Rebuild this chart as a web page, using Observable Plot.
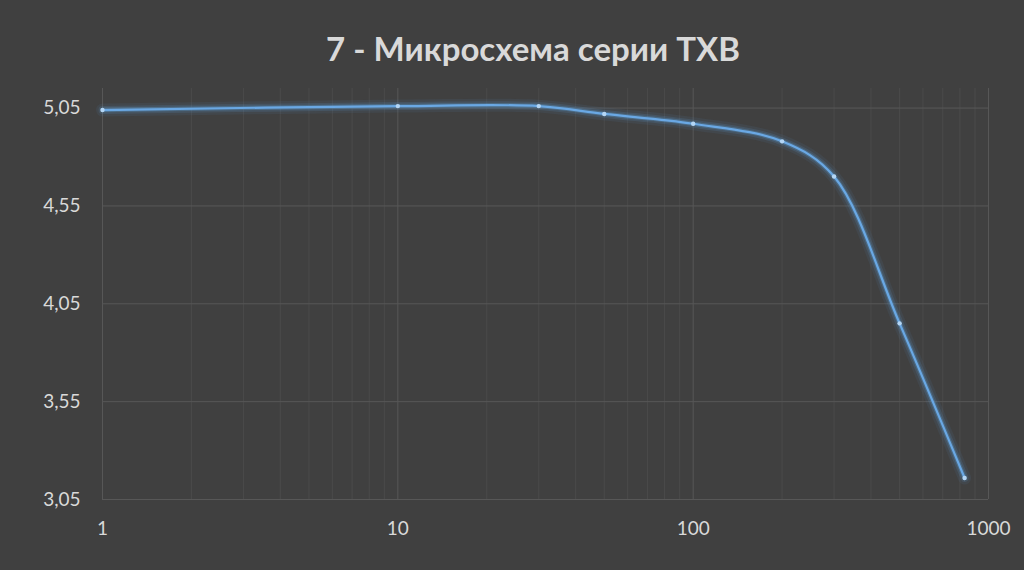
<!DOCTYPE html>
<html>
<head>
<meta charset="utf-8">
<script src="https://cdn.jsdelivr.net/npm/d3@7"></script>
<script src="https://cdn.jsdelivr.net/npm/@observablehq/plot@0.6"></script>
<style>
  html, body { margin: 0; padding: 0; background: #404040; width: 1024px; height: 570px; overflow: hidden; }
  #title { height: 70px; box-sizing: border-box; padding-top: 30px; padding-left: 42px; text-align: center;
           font-family: Lato, "Open Sans", sans-serif; font-weight: 700; font-size: 33px; color: #d9d9d9; line-height: 36px; }
</style>
</head>
<body>
<div id="title">7 - Микросхема серии TXB</div>
<div id="chart"></div>
<script>
const xValues = [1, 10, 30, 50, 100, 200, 300, 500, 830];
const yValues = [5.04, 5.06, 5.06, 5.02, 4.97, 4.88, 4.70, 3.95, 3.16];
const yTicks = [3.05, 3.55, 4.05, 4.55, 5.05];
const xMajorTicks = [1, 10, 100, 1000];
const xMinorTicks = [2,3,4,5,6,7,8,9,20,30,40,50,60,70,80,90,200,300,400,500,600,700,800,900];

const data = xValues.map((x, i) => ({x, y: yValues[i]}));
const fmt = d => d.toFixed(2).replace(".", ",");
const lineOpts = { x: "x", y: "y", curve: "catmull-rom" };

const chart = Plot.plot({
  width: 1024,
  height: 500,
  marginTop: 18,
  marginLeft: 102,
  marginRight: 36,
  marginBottom: 71,
  style: { background: "#404040", color: "#d9d9d9", fontFamily: "Lato, 'Open Sans', sans-serif", fontSize: "19px" },
  x: { type: "log", domain: [1, 1000], axis: null },
  y: { domain: [3.05, 5.15], axis: null },
  marks: [
    Plot.ruleX(xMinorTicks, { stroke: "#4a4a4a", strokeWidth: 1 }),
    Plot.ruleX(xMajorTicks, { stroke: "#575757", strokeWidth: 1 }),
    Plot.ruleY(yTicks, { stroke: "#575757", strokeWidth: 1 }),
    Plot.text(yTicks, { x: 1, y: d => d, text: fmt, textAnchor: "end", dx: -22, fill: "#d9d9d9", fontSize: 19 }),
    Plot.text(xMajorTicks, { x: d => d, y: 3.05, text: d => String(d), dy: 29, lineAnchor: "middle", fill: "#d9d9d9", fontSize: 19 }),
    Plot.line(data, { ...lineOpts, stroke: "#5b9bd5", strokeWidth: 13, strokeOpacity: 0.08 }),
    Plot.line(data, { ...lineOpts, stroke: "#5b9bd5", strokeWidth: 8, strokeOpacity: 0.16 }),
    Plot.line(data, { ...lineOpts, stroke: "#5b9bd5", strokeWidth: 4.5, strokeOpacity: 0.32 }),
    Plot.line(data, { ...lineOpts, stroke: "#6aa8e4", strokeWidth: 2.2 }),
    Plot.dot(data, { x: "x", y: "y", r: 2.2, fill: "#b4d6f5", stroke: "none" })
  ]
});
document.getElementById("chart").appendChild(chart);
</script>
</body>
</html>
